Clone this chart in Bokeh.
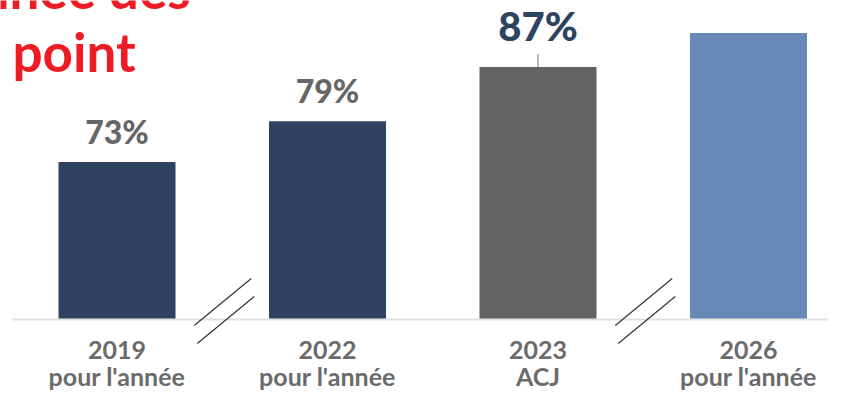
from bokeh.plotting import figure
from bokeh.models import Range1d, ColumnDataSource
from bokeh.core.properties import value
from bokeh.embed import file_html
from bokeh.resources import INLINE

# ---- data ----
years = ["2019", "2022", "2023", "2026"]
subtitles = ["pour l'année", "pour l'année", "ACJ", "pour l'année"]
values = [73, 79, 87, 92]
value_labels = ["73%", "79%", "87%", ""]
bar_colors = ["#2E4360", "#2E4360", "#636363", "#6689B8"]
label_colors = ["#666666", "#666666", "#2E4360", "#666666"]
highlight = [False, False, True, False]
breaks_after = ["2019", "2023"]
title_lines = ["Taux de réussite de l'année des", "point"]
y_base = 50

# ---- layout ----
W, H = 828, 391
PX_X = 210.5          # px per category
PX_Y = 6.8            # px per percentage point
X0 = -116.5 / PX_X
Y_TOP = y_base + 318 / PX_Y
Y_BOT = Y_TOP - H / PX_Y
FONT = value("Lato")
HEAVY = value("Lato Black, Lato")
MID = 0.35            # em-box centre above the baseline
CAT_SIZE = 25

def dx(px):
    return px / PX_X

def dy(px):
    return px / PX_Y

def ref_y(py):
    """data y for a reference pixel row"""
    return Y_TOP - py / PX_Y

p = figure(width=W, height=H, output_backend="svg", toolbar_location=None,
           x_range=Range1d(X0, X0 + W / PX_X), y_range=Range1d(Y_BOT, Y_TOP),
           min_border=0, min_border_left=0, min_border_right=0,
           min_border_top=0, min_border_bottom=0)
p.axis.visible = False
p.grid.visible = False
p.outline_line_color = None
p.background_fill_color = "white"
p.border_fill_color = "white"

xs = list(range(len(years)))

# baseline
p.segment(x0=[X0 + dx(12)], y0=[y_base - dy(1)], x1=[X0 + W / PX_X], y1=[y_base - dy(1)],
          line_color="#E0E0E0", line_width=2)

# bars
src = ColumnDataSource(dict(x=xs, top=values, color=bar_colors))
p.vbar(x="x", top="top", bottom=y_base, width=117 / PX_X, color="color",
       source=src, line_color=None)

# value labels
lx, ly, lt, lc, ls = [], [], [], [], []
for i, (v, t, c, h) in enumerate(zip(values, value_labels, label_colors, highlight)):
    if not t:
        continue
    size = 40 if h else 32
    lx.append(i)
    ly.append(v + dy((26.5 if h else 19.5) + MID * size))
    lt.append(t)
    lc.append(c)
    ls.append(f"{size}px")
    if h:
        p.segment(x0=[i], y0=[v], x1=[i], y1=[v + dy(13)],
                  line_color="#BBBBBB", line_width=2)
p.text(x=lx, y=ly, text=lt, text_color=lc, text_font_size=ls,
       text_font=HEAVY, text_font_style="bold", text_align="center",
       text_baseline="middle")

# category labels (two lines)
p.text(x=xs, y=[ref_y(358 - MID * CAT_SIZE)] * len(xs), text=years, text_color="#6B6B6B",
       text_font=FONT, text_font_style="bold", text_font_size=f"{CAT_SIZE}px",
       text_align="center", text_baseline="middle")
p.text(x=xs, y=[ref_y(384 - MID * CAT_SIZE)] * len(xs), text=subtitles, text_color="#6B6B6B",
       text_font=FONT, text_font_style="bold", text_font_size=f"{CAT_SIZE}px",
       text_align="center", text_baseline="middle")

# axis break markers
bx0, by0, bx1, by1 = [], [], [], []
for b in breaks_after:
    m = years.index(b) + 0.5
    bx0 += [m + dx(-28), m + dx(-25)]
    by0 += [y_base - dy(7), y_base - dy(25)]
    bx1 += [m + dx(29), m + dx(32)]
    by1 += [y_base + dy(40), y_base + dy(22)]
p.segment(x0=bx0, y0=by0, x1=bx1, y1=by1, line_color="#333333", line_width=1.2)

# title (cropped in the reference)
p.text(x=[X0 + dx(190)], y=[ref_y(7 - MID * 53)], text=[title_lines[0]],
       text_color="#ED1C24", text_font=FONT, text_font_style="bold",
       text_font_size="53px", text_align="right", text_baseline="middle")
p.text(x=[X0 + dx(12)], y=[ref_y(70 - MID * 53)], text=[title_lines[1]],
       text_color="#ED1C24", text_font=FONT, text_font_style="bold",
       text_font_size="53px", text_align="left", text_baseline="middle")

open("out.html", "w").write(file_html(p, INLINE))
